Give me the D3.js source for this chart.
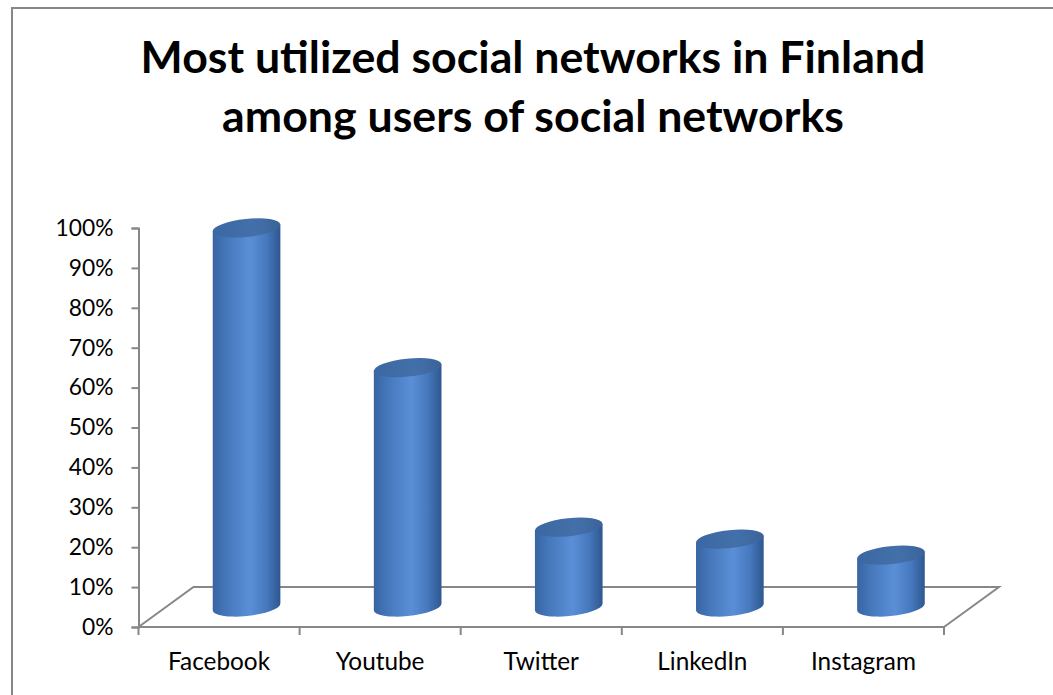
<!DOCTYPE html>
<html>
<head>
<meta charset="utf-8">
<script src="https://cdn.jsdelivr.net/npm/d3@7"></script>
<style>
  body { margin: 0; background: #fff; }
  svg { display: block; }
  text { font-family: Lato, "Open Sans", sans-serif; fill: #000; }
</style>
</head>
<body>
<div id="chart"></div>
<script>
const titleLines = ["Most utilized social networks in Finland", "among users of social networks"];
const categories = ["Facebook", "Youtube", "Twitter", "LinkedIn", "Instagram"];
const values = [95, 60, 20, 17, 13];
const yTicks = [0, 10, 20, 30, 40, 50, 60, 70, 80, 90, 100];

const W = 1053, H = 695;
const svg = d3.select("#chart").append("svg")
    .attr("width", W)
    .attr("height", H);

// plot geometry (front plane + depth offset of the floor)
const plotL = 138.5, plotR = 944, plotB = 627, plotT = 228;
const depth = { dx: 55, dy: -40 };
const grey = "#878787";

const x = d3.scaleBand().domain(categories).range([plotL, plotR]);
const y = d3.scaleLinear().domain([0, 100]).range([plotB, plotT]);

// text fitting helper
function fitSize(str, weight, target) {
    const t = svg.append("text").attr("font-size", 40).attr("font-weight", weight).text(str);
    const len = t.node().getComputedTextLength();
    t.remove();
    return 40 * target / len;
}

// outer border
svg.append("rect")
    .attr("x", 12).attr("y", 8)
    .attr("width", W + 20).attr("height", H + 20)
    .attr("fill", "none")
    .attr("stroke", grey)
    .attr("stroke-width", 2);

// title
const titleSize = fitSize(titleLines[0], "bold", 785);
svg.append("g").selectAll("text")
    .data(titleLines)
  .enter().append("text")
    .attr("x", 533)
    .attr("y", (d, i) => 73 + i * 59)
    .attr("text-anchor", "middle")
    .attr("font-weight", "bold")
    .attr("font-size", titleSize)
    .text(d => d);

// gradients
const defs = svg.append("defs");
const body = defs.append("linearGradient").attr("id", "cylBody")
    .attr("x1", "0%").attr("x2", "100%").attr("y1", "0%").attr("y2", "0%");
[["0%", "#3865a2"], ["20%", "#4577ba"], ["55%", "#5a8fd7"], ["80%", "#4678bd"], ["100%", "#2e578f"]]
    .forEach(s => body.append("stop").attr("offset", s[0]).attr("stop-color", s[1]));
const cap = defs.append("linearGradient").attr("id", "cylTop")
    .attr("x1", "0%").attr("x2", "100%").attr("y1", "0%").attr("y2", "0%");
[["0%", "#3b67a2"], ["60%", "#4470aa"], ["100%", "#3a6399"]]
    .forEach(s => cap.append("stop").attr("offset", s[0]).attr("stop-color", s[1]));

// floor
svg.append("path")
    .attr("fill", "none")
    .attr("stroke", grey)
    .attr("stroke-width", 2)
    .attr("d", `M${plotL},${plotB} L${plotL + depth.dx},${plotB + depth.dy} L${plotR + depth.dx},${plotB + depth.dy} L${plotR},${plotB}`);

// cylinders
const rx = x.bandwidth() * 0.211, ry = 9, rot = -6;
const th = rot * Math.PI / 180;
const tt = Math.atan(-ry * Math.sin(th) / (rx * Math.cos(th)));
const tx = rx * Math.cos(th) * Math.cos(tt) - ry * Math.sin(th) * Math.sin(tt);
const ty = rx * Math.sin(th) * Math.cos(tt) + ry * Math.cos(th) * Math.sin(tt);

const cyl = svg.append("g").selectAll("g")
    .data(categories.map((c, i) => ({ c, v: values[i] })))
  .enter().append("g")
    .attr("transform", d => `translate(${x(d.c) + x.bandwidth() / 2 + depth.dx / 2},0)`);

cyl.append("path")
    .attr("fill", "url(#cylBody)")
    .attr("d", d => {
        const yb = y(0) + depth.dy / 2, yt = y(d.v) + depth.dy / 2;
        return `M${-tx},${yt - ty} L${-tx},${yb - ty} A${rx},${ry} ${rot} 0 0 ${tx},${yb + ty} L${tx},${yt + ty} Z`;
    });

cyl.append("ellipse")
    .attr("fill", "url(#cylTop)")
    .attr("rx", rx).attr("ry", ry)
    .attr("transform", d => `translate(0,${y(d.v) + depth.dy / 2}) rotate(${rot})`);

// front floor edge drawn over
svg.append("line")
    .attr("x1", plotL).attr("x2", plotR)
    .attr("y1", plotB).attr("y2", plotB)
    .attr("stroke", grey).attr("stroke-width", 2);

// y axis
const labelSize = fitSize("Facebook", "normal", 102);
const tickSize = fitSize("100%", "normal", 58);
const yAxis = svg.append("g")
    .attr("transform", `translate(${plotL},0)`)
    .call(d3.axisLeft(y).tickValues(yTicks).tickFormat(d => d + "%").tickSize(7).tickPadding(18));
yAxis.select(".domain").attr("stroke", grey).attr("stroke-width", 2);
yAxis.selectAll(".tick line").attr("stroke", grey).attr("stroke-width", 2);
yAxis.selectAll(".tick text")
    .attr("font-size", tickSize)
    .attr("font-family", "Lato, 'Open Sans', sans-serif")
    .attr("fill", "#000");

// x axis (category ticks at band boundaries)
const xAxis = svg.append("g")
    .attr("transform", `translate(0,${plotB})`);
xAxis.selectAll("line")
    .data(d3.range(categories.length + 1))
  .enter().append("line")
    .attr("x1", i => plotL + i * x.step())
    .attr("x2", i => plotL + i * x.step())
    .attr("y1", 0).attr("y2", 8)
    .attr("stroke", grey).attr("stroke-width", 2);
xAxis.selectAll("text")
    .data(categories)
  .enter().append("text")
    .attr("x", d => x(d) + x.bandwidth() / 2)
    .attr("y", 43)
    .attr("text-anchor", "middle")
    .attr("font-size", labelSize)
    .text(d => d);
</script>
</body>
</html>
